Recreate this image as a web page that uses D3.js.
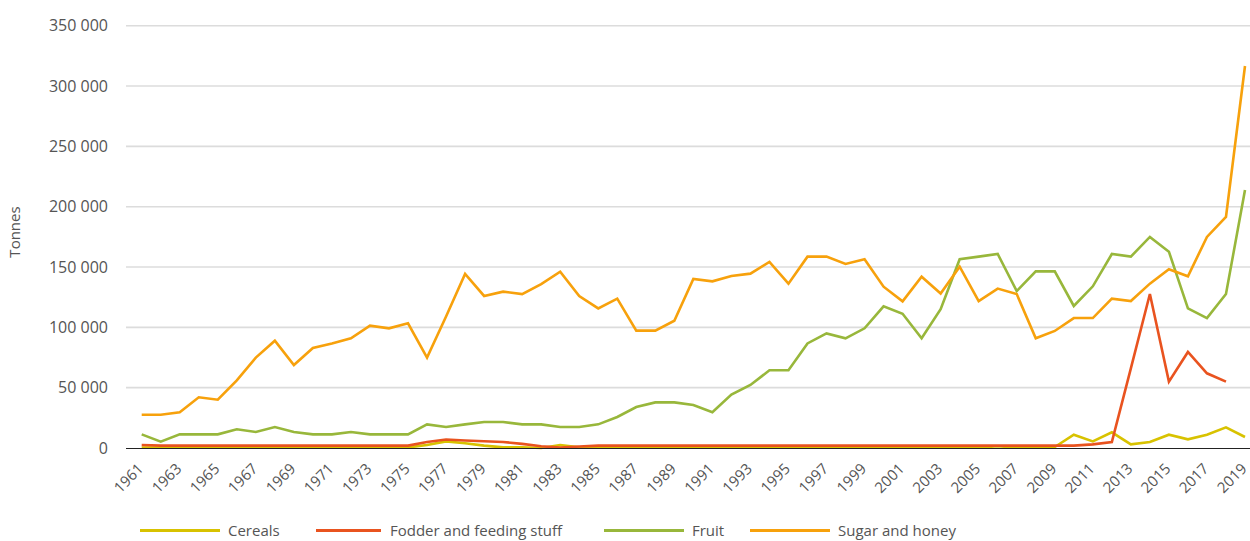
<!DOCTYPE html>
<html>
<head>
<meta charset="utf-8">
<script src="https://cdn.jsdelivr.net/npm/d3@7"></script>
<style>
  html, body { margin: 0; padding: 0; background: #fff; }
  svg { display: block; font-family: "Open Sans", sans-serif; }
</style>
</head>
<body>
<svg id="chart" width="1250" height="541"></svg>
<script>
const years = d3.range(1961, 2020);
const xTickYears = d3.range(1961, 2020, 2);
const yTicks = [0, 50000, 100000, 150000, 200000, 250000, 300000, 350000];

const seriesNames = ["Cereals", "Fodder and feeding stuff", "Fruit", "Sugar and honey"];
const seriesColors = ["#d8c200", "#e9531f", "#98b73b", "#f7a10c"];

const cereals = [
  400, 300, 300, 300, 300, 300, 600, 800, 400, 300,
  300, 300, 300, 300, 500, 2500, 5500, 4000, 2000, 500,
  600, 0, 2500, 500, 300, 300, 300, 300, 300, 300,
  300, 300, 300, 300, 300, 300, 300, 300, 300, 300,
  300, 300, 300, 300, 300, 1500, 300, 300, 800, 11000,
  5500, 13000, 3000, 5000, 11000, 7200, 11000, 17100, 9100
];
const fodder = [
  2500, 2000, 2000, 2000, 2000, 2000, 2000, 2000, 2000, 2000,
  2000, 2000, 2000, 2000, 2000, 5000, 7000, 6200, 5600, 5000,
  3400, 1500, 300, 1200, 2000, 2000, 2000, 2000, 2000, 2000,
  2000, 2000, 2000, 2000, 2000, 2000, 2000, 2000, 2000, 2000,
  2000, 2000, 2000, 2000, 2000, 2000, 2000, 2000, 2000, 2000,
  3000, 5000, 66000, 127600, 55000, 79600, 61900, 55000, null
];
const fruit = [
  11300, 5200, 11300, 11300, 11300, 15500, 13300, 17400, 13300, 11300,
  11300, 13300, 11300, 11300, 11300, 19600, 17400, 19600, 21500, 21500,
  19600, 19600, 17400, 17400, 19600, 25700, 34000, 37800, 37800, 35600,
  29600, 44200, 52200, 64400, 64400, 86700, 95000, 90900, 99200, 117400,
  111300, 90900, 115000, 156400, 158600, 160800, 130100, 146400, 146400, 117700,
  134000, 160800, 158600, 174900, 162700, 115700, 107700, 127600, 213800
];
const sugar = [
  27600, 27600, 29600, 42000, 40000, 56000, 74900, 88900, 68800, 82900,
  86700, 90900, 101400, 99200, 103300, 74900, 109000, 144200, 126000, 129600,
  127600, 135900, 146100, 126000, 115700, 123800, 97300, 97300, 105500, 140100,
  138100, 142600, 144500, 154200, 136200, 158600, 158600, 152500, 156400, 133700,
  121500, 142000, 128000, 150300, 121800, 132100, 127600, 90900, 97000, 107700,
  107700, 123800, 121800, 136200, 148100, 142300, 174900, 191500, 316600
];
const seriesValues = [cereals, fodder, fruit, sugar];

const svg = d3.select("#chart");
const plotLeft = 126, plotRight = 1250;
const x = d3.scaleLinear().domain([1961, 2019]).range([141.7, 1245]);
const y = d3.scaleLinear().domain([0, 350000]).range([448, 25.7]);
const fmt = d3.formatLocale({ decimal: ".", thousands: "\u00a0", grouping: [3], currency: ["", ""] }).format(",d");
const textColor = "#555555";

// gridlines
svg.append("g").selectAll("line").data(yTicks.filter(d => d > 0)).join("line")
  .attr("x1", plotLeft).attr("x2", plotRight)
  .attr("y1", d => y(d)).attr("y2", d => y(d))
  .attr("stroke", "#dcdcdc").attr("stroke-width", 1.6);

// y axis labels
svg.append("g").selectAll("text").data(yTicks).join("text")
  .attr("x", 108).attr("y", d => y(d))
  .attr("dy", "0.35em")
  .attr("text-anchor", "end")
  .attr("font-size", 16).attr("fill", textColor)
  .text(d => fmt(d));

svg.append("text")
  .attr("transform", "translate(20,232) rotate(-90)")
  .attr("text-anchor", "middle")
  .attr("font-size", 15).attr("fill", textColor)
  .text("Tonnes");

// lines
const line = d3.line()
  .defined(d => d.v !== null)
  .x(d => x(d.year)).y(d => y(d.v));

seriesValues.forEach((vals, i) => {
  svg.append("path")
    .datum(years.map((yr, j) => ({ year: yr, v: vals[j] })))
    .attr("fill", "none")
    .attr("stroke", seriesColors[i])
    .attr("stroke-width", 2.6)
    .attr("stroke-linejoin", "miter")
    .attr("d", line);
});

// x axis baseline
svg.append("line")
  .attr("x1", plotLeft).attr("x2", plotRight)
  .attr("y1", y(0) + 0.5).attr("y2", y(0) + 0.5)
  .attr("stroke", "#222").attr("stroke-width", 1.2);

// x labels
svg.append("g").selectAll("text").data(xTickYears).join("text")
  .attr("transform", d => `translate(${x(d) - 1},${466}) rotate(-45)`)
  .attr("text-anchor", "end")
  .attr("dy", "0.35em")
  .attr("font-size", 15).attr("fill", textColor)
  .text(d => d);

// legend
const legendX = [140, 316, 604, 750];
const legend = svg.append("g").selectAll("g").data(seriesNames).join("g")
  .attr("transform", (d, i) => `translate(${legendX[i]},530.5)`);
legend.append("line")
  .attr("x1", 0).attr("x2", (d, i) => i === 1 ? 65 : 80)
  .attr("stroke", (d, i) => seriesColors[i]).attr("stroke-width", 3);
legend.append("text")
  .attr("x", (d, i) => i === 1 ? 74 : 88)
  .attr("dy", "0.35em")
  .attr("font-size", 15).attr("fill", textColor)
  .text(d => d);
</script>
</body>
</html>
